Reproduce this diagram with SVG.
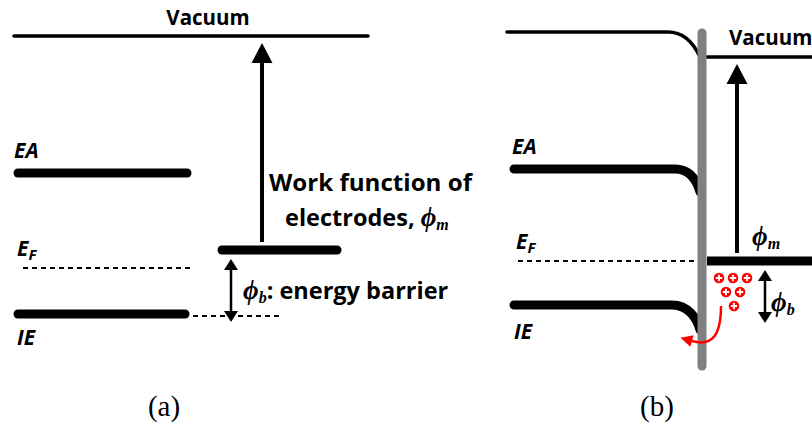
<svg xmlns="http://www.w3.org/2000/svg" width="812" height="427" viewBox="0 0 812 427">
<defs>
<style>
.lbl{font-family:"Open Sans","Liberation Sans",sans-serif;font-weight:bold;fill:#000}
.it{font-style:italic}
.phi{font-family:"Liberation Serif","DejaVu Serif",serif;font-style:italic;font-weight:bold}
.cap{font-family:"Liberation Serif","Times New Roman",serif;font-size:29px;fill:#000}
.thin{stroke:#000;stroke-width:3.5;stroke-linecap:round;fill:none}
.thick{stroke:#000;stroke-width:9;stroke-linecap:round;fill:none}
.dash{stroke:#000;stroke-width:2;stroke-dasharray:5 4;fill:none}
.arr{stroke:#000;stroke-width:4;fill:none}
.arr2{stroke:#000;stroke-width:2.5;fill:none}
.plus{stroke:#fff;stroke-width:1.8}
</style>
<marker id="headBig" markerUnits="userSpaceOnUse" markerWidth="22" markerHeight="22" refX="0" refY="10.5" orient="auto" overflow="visible">
<path d="M0,0 L20,10.5 L0,21 Z" fill="#000"/>
</marker>
<marker id="headSmall" markerUnits="userSpaceOnUse" markerWidth="14" markerHeight="16" refX="0" refY="7" orient="auto-start-reverse" overflow="visible">
<path d="M0,0 L11,7 L0,14 Z" fill="#000"/>
</marker>
<marker id="headRed" markerUnits="userSpaceOnUse" markerWidth="14" markerHeight="14" refX="0" refY="6" orient="auto" overflow="visible">
<path d="M0,0 L12,6 L0,12 Z" fill="#ff0000"/>
</marker>
<g id="plusCharge">
<circle r="5.3" fill="#ff0000"/>
<path class="plus" d="M-3.2,0 H3.2 M0,-3.2 V3.2"/>
</g>
</defs>
<rect width="812" height="427" fill="#fff"/>

<!-- Panel (a) -->
<g id="a-vacuum">
<line class="thin" x1="14" y1="36" x2="368" y2="36"/>
<text class="lbl" x="208" y="25" font-size="20.5" text-anchor="middle">Vacuum</text>
</g>
<g id="a-EA">
<line class="thick" x1="18" y1="173" x2="187" y2="173"/>
<text class="lbl it" x="14" y="158" font-size="21">EA</text>
</g>
<g id="a-EF">
<line class="dash" x1="23" y1="268" x2="190" y2="268"/>
<text class="lbl it" x="17" y="256" font-size="21">E<tspan font-size="15" dy="4">F</tspan></text>
</g>
<g id="a-IE">
<line class="thick" x1="18" y1="314" x2="185" y2="314"/>
<line class="dash" x1="193" y1="316" x2="279" y2="316"/>
<text class="lbl it" x="17" y="345" font-size="21">IE</text>
</g>
<g id="a-electrode">
<line class="thick" x1="222" y1="250" x2="337" y2="250"/>
</g>
<g id="a-labels">
<text class="lbl" x="269" y="191" font-size="23.5" textLength="203" lengthAdjust="spacingAndGlyphs">Work function of</text>
<text class="lbl" x="285" y="226" font-size="23.5">electrodes, <tspan class="phi" font-size="27">ϕ</tspan><tspan class="phi" font-size="16" dy="4">m</tspan></text>
<text class="lbl" x="243" y="299" font-size="23.5"><tspan class="phi" font-size="27">ϕ</tspan><tspan class="phi" font-size="16" dy="4">b</tspan><tspan dy="-4">: energy barrier</tspan></text>
</g>

<!-- Panel (b) -->
<g id="b-vacuum">
<path class="thin" d="M507,32 H668 C684,32 694,44 700,57"/>
<line class="thin" x1="707" y1="57" x2="815" y2="57"/>
<text class="lbl" x="729" y="45" font-size="20.5">Vacuum</text>
</g>
<g id="b-EA">
<path class="thick" d="M514,169 H675 C688,169 696,178 700,192"/>
<text class="lbl it" x="512" y="154" font-size="21">EA</text>
</g>
<g id="b-EF">
<line class="dash" x1="518" y1="261" x2="697" y2="261"/>
<line stroke="#000" stroke-width="9" x1="707" y1="261" x2="812" y2="261"/>
<text class="lbl it" x="516" y="249" font-size="21">E<tspan font-size="15" dy="4">F</tspan></text>
</g>
<g id="b-IE">
<path class="thick" d="M514,305 H672 C688,305 697,318 700,330"/>
<text class="lbl it" x="514" y="339" font-size="21">IE</text>
</g>
<g id="b-interface">
<line stroke="#808080" stroke-width="9" stroke-linecap="round" x1="702" y1="33" x2="702" y2="366"/>
</g>
<g id="b-charges">
<use href="#plusCharge" x="719" y="278"/>
<use href="#plusCharge" x="733" y="278"/>
<use href="#plusCharge" x="747" y="278"/>
<use href="#plusCharge" x="726" y="292"/>
<use href="#plusCharge" x="740" y="292"/>
<use href="#plusCharge" x="734" y="306"/>
</g>
<g id="b-labels">
<text class="lbl" x="752" y="245" font-size="23.5"><tspan class="phi" font-size="27">ϕ</tspan><tspan class="phi" font-size="16" dy="4">m</tspan></text>
<text class="lbl" x="771" y="311" font-size="23.5"><tspan class="phi" font-size="27">ϕ</tspan><tspan class="phi" font-size="16" dy="4">b</tspan></text>
</g>

<!-- Connectors -->
<g id="connectors">
<line class="arr" x1="262" y1="242" x2="262" y2="63" marker-end="url(#headBig)"/>
<line class="arr2" x1="231" y1="270" x2="231" y2="311" marker-start="url(#headSmall)" marker-end="url(#headSmall)"/>
<line class="arr" x1="737" y1="253" x2="737" y2="84" marker-end="url(#headBig)"/>
<line class="arr2" x1="765" y1="281" x2="765" y2="312" marker-start="url(#headSmall)" marker-end="url(#headSmall)"/>
<path d="M721,306 C721,334 713,347 692,341" stroke="#ff0000" stroke-width="2.5" fill="none" marker-end="url(#headRed)"/>
</g>

<text class="cap" x="164" y="416" text-anchor="middle">(a)</text>
<text class="cap" x="657" y="416" text-anchor="middle">(b)</text>
</svg>
